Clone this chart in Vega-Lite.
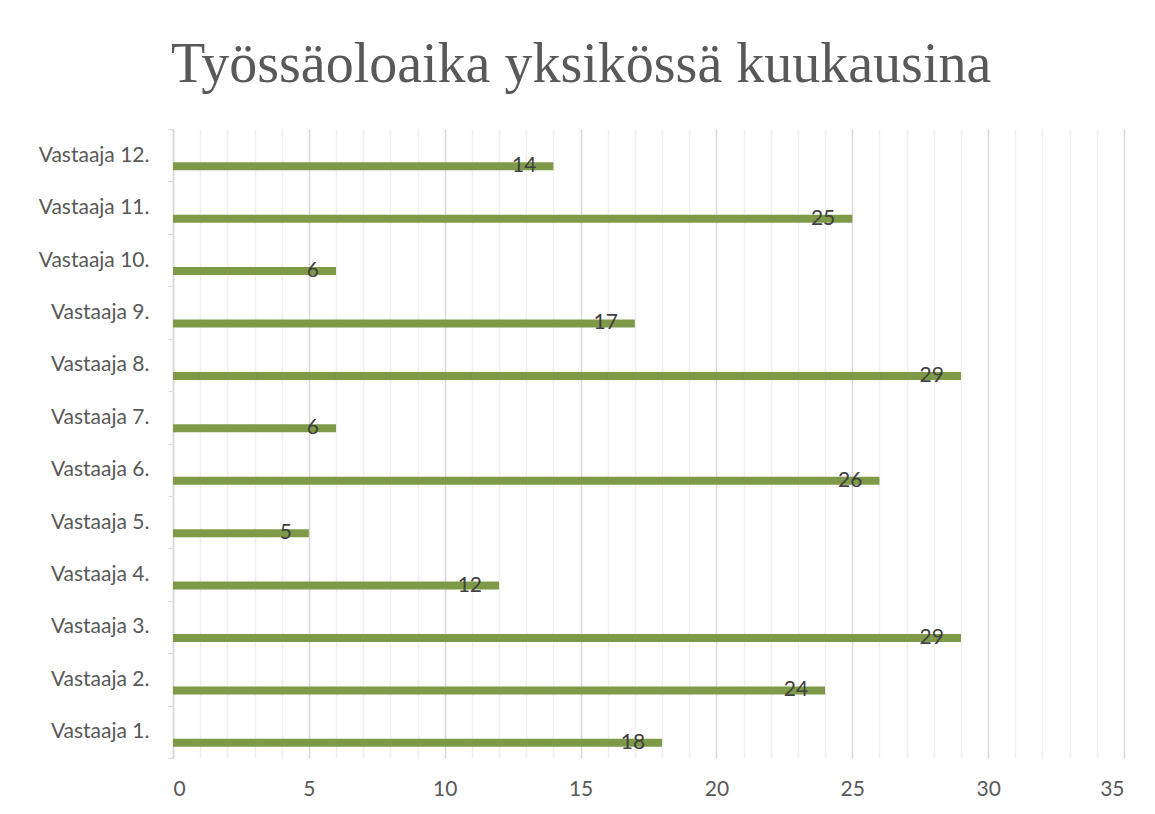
{
  "$schema": "https://vega.github.io/schema/vega-lite/v6.json",
  "autosize": "none",
  "width": 951,
  "height": 629,
  "padding": {"left": 173, "top": 129, "right": 31, "bottom": 56},
  "background": "#ffffff",
  "config": {
    "view": {"stroke": null},
    "font": "Lato"
  },
  "title": {
    "text": "Työssäoloaika yksikössä kuukausina",
    "font": "Liberation Serif",
    "fontSize": 56,
    "fontWeight": "normal",
    "color": "#595959",
    "frame": "bounds",
    "anchor": "middle",
    "offset": 24
  },
  "data": {
    "values": [
      {"vastaaja": "Vastaaja 1.", "n": 1, "kk": 18},
      {"vastaaja": "Vastaaja 2.", "n": 2, "kk": 24},
      {"vastaaja": "Vastaaja 3.", "n": 3, "kk": 29},
      {"vastaaja": "Vastaaja 4.", "n": 4, "kk": 12},
      {"vastaaja": "Vastaaja 5.", "n": 5, "kk": 5},
      {"vastaaja": "Vastaaja 6.", "n": 6, "kk": 26},
      {"vastaaja": "Vastaaja 7.", "n": 7, "kk": 6},
      {"vastaaja": "Vastaaja 8.", "n": 8, "kk": 29},
      {"vastaaja": "Vastaaja 9.", "n": 9, "kk": 17},
      {"vastaaja": "Vastaaja 10.", "n": 10, "kk": 6},
      {"vastaaja": "Vastaaja 11.", "n": 11, "kk": 25},
      {"vastaaja": "Vastaaja 12.", "n": 12, "kk": 14}
    ]
  },
  "encoding": {
    "y": {
      "field": "vastaaja",
      "type": "nominal",
      "sort": {"field": "n", "order": "descending"},
      "scale": {"paddingInner": 0, "paddingOuter": 0},
      "axis": {
        "title": null,
        "tickBand": "extent",
        "tickSize": 5,
        "tickColor": "#d9d9d9",
        "domainColor": "#d9d9d9",
        "domainWidth": 1.5,
        "labelFontSize": 21,
        "labelColor": "#595959",
        "labelFont": "Lato",
        "labelPadding": 19,
        "labelAlign": "right"
      }
    },
    "x": {
      "field": "kk",
      "type": "quantitative",
      "scale": {"domain": [0, 35], "nice": false},
      "axis": {
        "title": null,
        "values": [0,1,2,3,4,5,6,7,8,9,10,11,12,13,14,15,16,17,18,19,20,21,22,23,24,25,26,27,28,29,30,31,32,33,34,35],
        "labelExpr": "datum.value % 5 === 0 ? datum.label : ''",
        "grid": true,
        "gridColor": {"condition": {"test": "datum.value % 5 === 0", "value": "#d9d9d9"}, "value": "#f0f0f0"},
        "gridWidth": 1.5,
        "ticks": false,
        "domain": false,
        "labelFontSize": 21,
        "labelColor": "#595959",
        "labelFont": "Lato",
        "labelPadding": 20
      }
    }
  },
  "layer": [
    {
      "mark": {"type": "bar", "size": 8, "yOffset": 11, "color": "#7E9A48"}
    },
    {
      "mark": {"type": "text", "align": "right", "baseline": "middle", "dx": -17, "dy": 11, "fontSize": 21, "color": "#404040", "font": "Lato"},
      "encoding": {"text": {"field": "kk", "type": "quantitative"}}
    }
  ]
}
